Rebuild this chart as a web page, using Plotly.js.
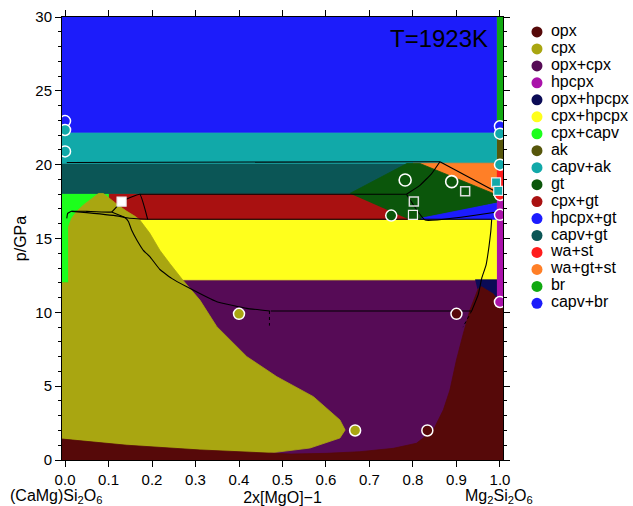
<!DOCTYPE html>
<html>
<head>
<meta charset="utf-8">
<script src="https://cdn.plot.ly/plotly-3.0.1.min.js"></script>
<style>html,body{margin:0;padding:0;background:#fff;}#chart{width:633px;height:506px;}</style>
</head>
<body>
<div id="chart"></div>
<script>
// ---------- legend / phases ----------
const phaseNames = ["opx","cpx","opx+cpx","hpcpx","opx+hpcpx","cpx+hpcpx","cpx+capv","ak","capv+ak","gt","cpx+gt","hpcpx+gt","capv+gt","wa+st","wa+gt+st","br","capv+br"];
const phaseColors = ["#560909","#a9a611","#560b56","#aa12aa","#0b0b56","#ffff1c","#1cff1c","#56560b","#11a9a9","#0b560b","#a91111","#1c1cff","#0b5656","#ff1c1c","#ff7f27","#11a911","#1c1cfa"];

// ---------- phase regions (x = 2x[MgO]-1, p in GPa), drawn in order ----------
const reg_opxcpx_x = [-0.007,1.007,1.007,-0.007];
const reg_opxcpx_p = [0,0,12.2,12.2];
const reg_cpxhpcpx_x = [0.15,0.993,0.993,0.15];
const reg_cpxhpcpx_p = [12.2,12.2,16.3,16.3];
const reg_cpxgt_x = [0.07,0.80,0.80,0.07];
const reg_cpxgt_p = [16.3,16.3,18.05,18.05];
const reg_cpxcapv_x = [-0.007,0.1,0.1,-0.007];
const reg_cpxcapv_p = [12.0,12.0,18.05,18.05];
const reg_capvgt_x = [-0.007,0.993,0.993,-0.007];
const reg_capvgt_p = [18.05,18.05,20.1,20.1];
const reg_capvak_x = [-0.007,0.993,0.993,-0.007];
const reg_capvak_p = [20.1,20.1,22.2,22.2];
const reg_capvbr_x = [-0.007,0.993,0.993,-0.007];
const reg_capvbr_p = [22.2,22.2,30,30];
const reg_cpx_x = [-0.007,0.0,0.142,0.31,0.464,0.563,0.632,0.644,0.632,0.571,0.487,0.418,0.349,0.31,0.272,0.241,0.218,0.195,0.184,0.172,0.161,0.142,0.122,0.103,0.088,0.077,0.061,0.042,0.027,0.015,0.008,0.008,-0.007];
const reg_cpx_p = [1.42,1.4,1.0,0.68,0.45,0.81,1.49,2.03,2.71,4.29,5.64,7.0,9.03,10.83,12.14,13.3,14.2,15.35,15.8,16.25,16.5,16.84,17.26,17.7,18.05,18.05,17.7,17.26,16.84,16.36,15.8,12.0,12.0];
const reg_opx_x = [-0.007,-0.007,0.0,0.142,0.31,0.464,0.52,0.6,0.678,0.755,0.808,0.847,0.87,0.885,0.9,0.916,0.931,0.95,0.957,0.985,0.993,0.993,1.007,1.007];
const reg_opx_p = [0,1.42,1.4,1.0,0.68,0.45,0.4,0.45,0.56,0.79,1.13,2.03,3.4,4.74,6.77,8.58,10.16,11.6,11.8,11.3,11.0,10.4,10.4,0];
const reg_opxhpcpx_x = [0.943,0.993,0.993,0.985,0.957,0.948];
const reg_opxhpcpx_p = [12.2,12.2,11.0,11.3,11.8,11.6];
const reg_wagtst_x = [0.80,0.993,0.993,0.98,0.80];
const reg_wagtst_p = [20.1,20.1,17.9,17.9,19.9];
const reg_gt_x = [0.655,0.786,0.816,0.985,0.993,0.993,0.82,0.79];
const reg_gt_p = [18.05,20.08,20.08,18.05,17.95,17.4,16.3,16.3];
const reg_hpcpxgt_x = [0.82,0.993,0.993,0.82];
const reg_hpcpxgt_p = [16.3,16.3,17.4,16.38];
const reg_br_x = [0.993,1.007,1.007,0.993];
const reg_br_p = [22.8,22.8,30,30];
const reg_ak_x = [0.993,1.007,1.007,0.993];
const reg_ak_p = [20.1,20.1,22.8,22.8];
const reg_wast_x = [0.993,1.007,1.007,0.993];
const reg_wast_p = [17.7,17.7,20.1,20.1];
const reg_hpcpx_x = [0.993,1.007,1.007,0.993];
const reg_hpcpx_p = [10.4,10.4,17.7,17.7];

const regionOrder = [
  ["opx+cpx", reg_opxcpx_x, reg_opxcpx_p],
  ["cpx+hpcpx", reg_cpxhpcpx_x, reg_cpxhpcpx_p],
  ["cpx+gt", reg_cpxgt_x, reg_cpxgt_p],
  ["cpx+capv", reg_cpxcapv_x, reg_cpxcapv_p],
  ["capv+gt", reg_capvgt_x, reg_capvgt_p],
  ["capv+ak", reg_capvak_x, reg_capvak_p],
  ["capv+br", reg_capvbr_x, reg_capvbr_p],
  ["cpx", reg_cpx_x, reg_cpx_p],
  ["opx", reg_opx_x, reg_opx_p],
  ["opx+hpcpx", reg_opxhpcpx_x, reg_opxhpcpx_p],
  ["wa+gt+st", reg_wagtst_x, reg_wagtst_p],
  ["gt", reg_gt_x, reg_gt_p],
  ["hpcpx+gt", reg_hpcpxgt_x, reg_hpcpxgt_p],
  ["br", reg_br_x, reg_br_p],
  ["ak", reg_ak_x, reg_ak_p],
  ["wa+st", reg_wast_x, reg_wast_p],
  ["hpcpx", reg_hpcpx_x, reg_hpcpx_p]
];

// ---------- experimental phase boundaries (black lines) ----------
const line1_x = [0.004,0.862]; const line1_p = [20.15,20.2];
const line2_x = [0.862,0.992]; const line2_p = [20.2,18.15];
const line3_x = [0.862,0.843,0.816,0.785]; const line3_p = [20.2,19.4,18.6,18.0];
const line4_x = [0.172,0.785]; const line4_p = [18.0,18.0];
const line5_x = [0.785,0.828,0.993]; const line5_p = [18.0,16.25,16.8];
const line6_x = [0.004,0.006,0.015,0.05,0.107,0.13,0.172,0.19]; const line6_p = [16.36,16.7,16.84,16.84,16.8,17.5,18.0,16.3];
const line7_x = [0.107,0.142,0.19,0.981]; const line7_p = [16.8,16.4,16.3,16.3];
const line8_x = [0.015,0.05,0.126,0.138,0.146,0.153,0.165,0.18,0.195,0.218,0.245,0.28,0.349,0.418,0.471];
const line8_p = [16.84,16.75,16.5,16.4,16.14,15.57,14.9,14.2,13.77,12.9,12.3,11.73,10.72,10.27,10.09];
const line9_x = [0.473,0.935]; const line9_p = [10.09,10.09];
const line10_x = [0.981,0.979,0.975,0.968,0.958,0.95,0.935]; const line10_p = [16.3,15.5,14.5,13.2,12.3,11.2,10.1];
const dot1_x = [0.47,0.47]; const dot1_p = [10.09,9.1];
const dot2_x = [0.935,0.915]; const dot2_p = [10.1,9.0];

// ---------- experimental points ----------
const pt_x = [0.0,0.0,0.0,1.0,1.0,1.0,1.0,1.0,1.0,0.4,0.9,0.667,0.833,0.75];
const pt_p = [22.95,22.35,20.9,22.6,22.1,20.0,17.95,16.6,10.7,9.9,9.9,2.0,2.0,16.55];
const pt_phase = ["capv+br","capv+ak","capv+ak","capv+br","capv+ak","capv+ak","wa+st","hpcpx","hpcpx","cpx","opx","cpx","opx","gt"];
const open_x = [0.782,0.889]; const open_p = [18.96,18.85];
const sqOpen_x = [0.802,0.92]; const sqOpen_p = [17.5,18.2];
const sq_x = [0.13,0.80,0.991,0.996]; const sq_p = [17.5,16.6,18.8,18.23];
const sq_color = ["#ffffff","#0b560b","#11a9a9","#11a9a9"];

const colorOf = n => phaseColors[phaseNames.indexOf(n)];
const FONT = "Liberation Sans, Arial, Helvetica, sans-serif";

const traces = [];
regionOrder.forEach(([name, xs, ps]) => {
  traces.push({type:"scatter", mode:"lines", x:xs, y:ps, fill:"toself",
    fillcolor:colorOf(name), line:{color:colorOf(name), width:0.8},
    hoverinfo:"skip", showlegend:false});
});
const lineSets = [[line1_x,line1_p],[line2_x,line2_p],[line3_x,line3_p],[line4_x,line4_p],[line5_x,line5_p],[line6_x,line6_p],[line7_x,line7_p],[line8_x,line8_p],[line9_x,line9_p],[line10_x,line10_p]];
lineSets.forEach(([xs,ps]) => traces.push({type:"scatter", mode:"lines", x:xs, y:ps, line:{color:"#000", width:1.1, shape:"spline", smoothing:0.3}, hoverinfo:"skip", showlegend:false}));
[[dot1_x,dot1_p],[dot2_x,dot2_p]].forEach(([xs,ps]) => traces.push({type:"scatter", mode:"lines", x:xs, y:ps, line:{color:"#000", width:1, dash:"dot"}, hoverinfo:"skip", showlegend:false}));

traces.push({type:"scatter", mode:"markers", x:pt_x, y:pt_p,
  marker:{size:11, color:pt_phase.map(colorOf), line:{color:"#fff", width:1.5}}, showlegend:false, hoverinfo:"skip"});
traces.push({type:"scatter", mode:"markers", x:open_x, y:open_p,
  marker:{size:12, symbol:"circle-open", color:"#fff", line:{width:1.6}}, showlegend:false, hoverinfo:"skip"});
traces.push({type:"scatter", mode:"markers", x:sqOpen_x, y:sqOpen_p,
  marker:{size:9, symbol:"square-open", color:"#ddd", line:{width:1.5}}, showlegend:false, hoverinfo:"skip"});
traces.push({type:"scatter", mode:"markers", x:sq_x, y:sq_p,
  marker:{size:9, symbol:"square", color:sq_color, line:{color:"#eee", width:1.2}}, showlegend:false, hoverinfo:"skip"});

// manual legend on its own axes
const legIdx = phaseNames.map((_, i) => i);
traces.push({type:"scatter", mode:"markers", xaxis:"x2", yaxis:"y2",
  x:legIdx.map(() => 20), y:legIdx, marker:{size:11, color:phaseColors}, showlegend:false, hoverinfo:"skip"});
traces.push({type:"scatter", mode:"text", xaxis:"x2", yaxis:"y2",
  x:legIdx.map(() => 34), y:legIdx, text:phaseNames, textposition:"middle right",
  textfont:{family:FONT, size:16, color:"#000"}, showlegend:false, hoverinfo:"skip"});

const layout = {
  width:633, height:506,
  margin:{l:62, r:0, t:17, b:46},
  paper_bgcolor:"#fff", plot_bgcolor:"#fff",
  font:{family:FONT, size:15, color:"#000"},
  showlegend:false,
  xaxis:{domain:[0,0.77233], range:[-0.007,1.007], tickmode:"linear", tick0:0, dtick:0.1, tickformat:".1f",
    ticks:"outside", ticklen:6, tickcolor:"#000", showline:true, linecolor:"#000", linewidth:1,
    mirror:"allticks", showgrid:false, zeroline:false, tickfont:{size:15},
    title:{text:"2x[MgO]−1", font:{size:16}, standoff:4}},
  yaxis:{domain:[0,1], range:[0,30], tickmode:"linear", tick0:0, dtick:5,
    ticks:"outside", ticklen:6, tickcolor:"#000", showline:true, linecolor:"#000", linewidth:1,
    mirror:"allticks", showgrid:false, zeroline:false, tickfont:{size:15},
    minor:{dtick:1, ticks:"outside", ticklen:3, tickcolor:"#000", showgrid:false},
    title:{text:"p/GPa", font:{size:16}, standoff:4}},
  xaxis2:{domain:[0.7968,1], range:[0,116], visible:false, anchor:"y2", fixedrange:true},
  yaxis2:{domain:[0,1], range:[25.235,-0.883], visible:false, anchor:"x2", fixedrange:true},
  annotations:[
    {text:"T=1923K", xref:"x", yref:"y", x:0.977, y:28.57, xanchor:"right", yanchor:"middle", showarrow:false, font:{size:24, color:"#000"}},
    {text:"(CaMg)Si<sub>2</sub>O<sub>6</sub>", xref:"paper", yref:"paper", x:-0.0105, y:-0.082, xanchor:"center", yanchor:"middle", showarrow:false, font:{size:16}},
    {text:"Mg<sub>2</sub>Si<sub>2</sub>O<sub>6</sub>", xref:"paper", yref:"paper", x:0.7653, y:-0.082, xanchor:"center", yanchor:"middle", showarrow:false, font:{size:16}}
  ]
};

Plotly.newPlot("chart", traces, layout, {displayModeBar:false, staticPlot:true});
</script>
</body>
</html>
